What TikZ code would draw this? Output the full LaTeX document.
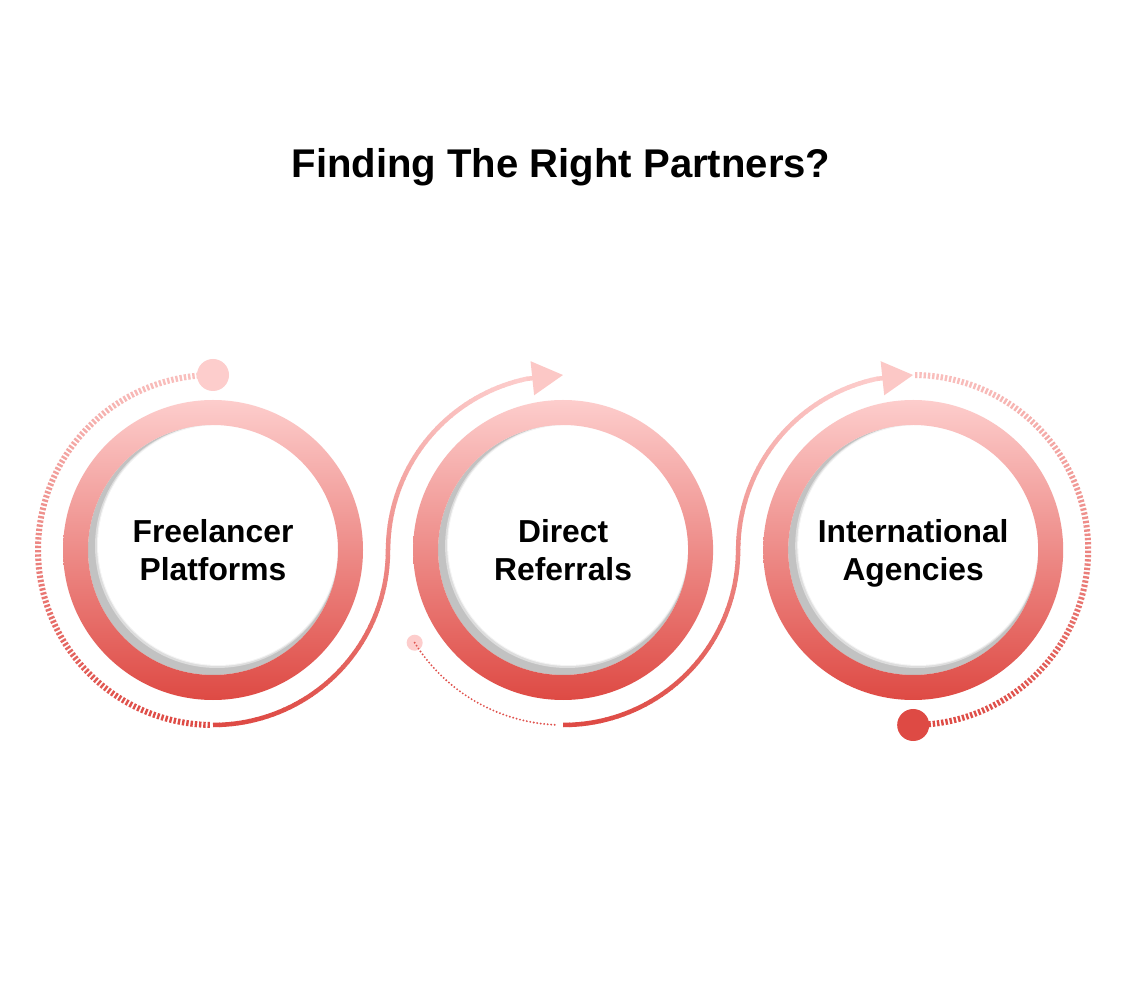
\documentclass[tikz,border=0pt]{standalone}
\usepackage{fontspec}
\setmainfont{Liberation Sans}
\usetikzlibrary{arrows.meta,positioning}
\definecolor{ringtop}{RGB}{253,205,204}
\definecolor{ringbot}{RGB}{222,74,68}
\definecolor{tickpink}{RGB}{249,190,188}
\definecolor{arrowpink}{RGB}{252,200,198}
\definecolor{dotred}{RGB}{224,82,77}
\definecolor{shadowgrey}{RGB}{194,194,194}

\begin{document}
\begin{tikzpicture}[x=0.025cm, y=0.025cm,
    ttl/.style={font=\fontsize{28.5}{34}\selectfont\bfseries, anchor=base},
    lbl/.style={font=\fontsize{22.6}{27}\selectfont\bfseries, align=center,
                text depth=0pt, inner sep=0pt},
    tickmark/.style={line width=1.7pt},
    flow/.style={line width=3.2pt},
    head/.style={-{Triangle[length=22pt, width=23.5pt]}, line width=3.2pt, color=arrowpink},
    bigdot/.style={circle, minimum size=0.8cm, inner sep=0pt},
    smalldot/.style={circle, fill=ringtop, minimum size=0.4cm, inner sep=0pt},
    dotline/.style={line width=1.5pt, line cap=round, dash pattern=on 0pt off 2.5pt, color=dotred}
  ]
    \useasboundingbox[fill=white] (0,0) rectangle (1122,1000);
    \node[ttl] (title) at (561,822) {Finding The Right Partners?};

    \coordinate (fl) at (213,450);
    \coordinate[right=8.75cm of fl] (dr);
    \coordinate[right=8.75cm of dr] (ia);

    % dashed arc round the first step
    \foreach \a in {95,96.4,...,269}{
      \pgfmathtruncatemacro\p{50-50*sin(\a)}
      \draw[tickmark, ringbot!\p!tickpink] ([shift={(\a:172)}]fl) -- ([shift={(\a:178)}]fl);
    }
    \node[bigdot, fill=ringtop] (startdot) at ([shift={(90:175)}]fl) {};

    % S-curves with arrow
    \foreach \from/\to in {fl/dr, dr/ia}{
      \foreach \a in {270,272,...,358}{
        \pgfmathtruncatemacro\p{50-50*sin(\a+1)}
        \draw[flow, ringbot!\p!ringtop] ([shift={(\a:175)}]\from) arc[start angle=\a, delta angle=2.3, radius=175];
      }
      \foreach \a in {180,178,...,104}{
        \pgfmathtruncatemacro\p{50-50*sin(\a-1)}
        \draw[flow, ringbot!\p!ringtop] ([shift={(\a:175)}]\to) arc[start angle=\a, delta angle=-2.3, radius=175];
      }
      \draw[head] ([shift={(102:175)}]\to) -- ([shift={(90:175)}]\to);
    }

    % dotted arc under the second step
    \node[smalldot] (middot) at ([shift={(212:175)}]dr) {};
    \draw[dotline] (middot.center) arc[start angle=212, end angle=268, radius=175];

    % dashed arc round the third step
    \foreach \a in {-86,-84.6,...,89}{
      \pgfmathtruncatemacro\p{50-50*sin(\a)}
      \draw[tickmark, ringbot!\p!tickpink] ([shift={(\a:172)}]ia) -- ([shift={(\a:178)}]ia);
    }
    \node[bigdot, fill=ringbot] (enddot) at ([shift={(270:175)}]ia) {};

    % rings
    \foreach \c in {fl,dr,ia}{
      \fill[shadowgrey] (\c) circle (125);
      \fill[white!45!shadowgrey] ([shift={(4,4)}]\c) circle (122);
      \fill[white!80!shadowgrey] ([shift={(5,5)}]\c) circle (121);
      \fill[white] ([shift={(5,5)}]\c) circle (120);
      \shade[top color=ringtop, bottom color=ringbot, even odd rule] (\c) circle (150) (\c) circle (125);
    }

    \node[lbl] (fltext) at (fl) {Freelancer\\Platforms};
    \node[lbl] (drtext) at (dr) {Direct\\Referrals};
    \node[lbl] (iatext) at (ia) {International\\Agencies};
  \end{tikzpicture}
\end{document}
